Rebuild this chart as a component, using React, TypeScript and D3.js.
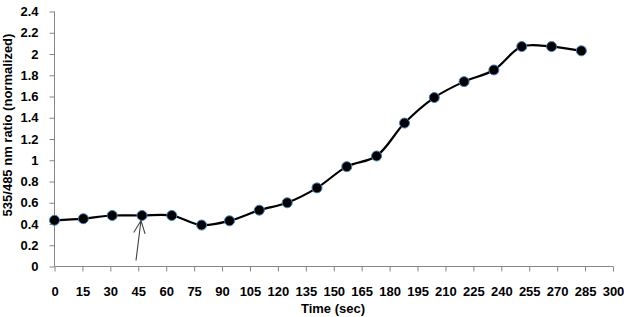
import React, { useEffect, useRef } from "react";
import * as d3 from "d3";

// time (sec) of each reading
const times = [0, 15.5, 31, 47, 63, 79, 94, 110, 125, 141, 157, 173, 188, 204, 220, 236, 251, 267, 283];
// 535/485 ratio (normalized)
const ratios = [0.435, 0.45, 0.48, 0.48, 0.48, 0.39, 0.43, 0.53, 0.6, 0.74, 0.94, 1.04, 1.35, 1.59, 1.74, 1.85, 2.07, 2.07, 2.03];
const xTicks = d3.range(0, 301, 15);
const yTicks = [0, 0.2, 0.4, 0.6, 0.8, 1, 1.2, 1.4, 1.6, 1.8, 2, 2.2, 2.4];
// arrow marks the time of stimulus
const arrowAt = 47;

const App = () => {
  const ref = useRef<SVGSVGElement>(null);

  useEffect(() => {
    const svg = d3.select(ref.current);
    svg.selectAll("*").remove();

    const x = d3.scaleLinear().domain([0, 300]).range([54.5, 613]);
    const y = d3.scaleLinear().domain([0, 2.4]).range([266.5, 11.5]);
    const axisColor = "#868686";
    const font = "'Liberation Sans', Arial, sans-serif";

    // eixo y
    const gy = svg.append("g").attr("transform", `translate(${x(0)},0)`)
      .call(d3.axisLeft(y).tickValues(yTicks).tickSize(5).tickPadding(11)
        .tickFormat((d) => String(+(+d).toFixed(1))));
    // eixo x
    const gx = svg.append("g").attr("transform", `translate(0,${y(0)})`)
      .call(d3.axisBottom(x).tickValues(xTicks).tickSize(5).tickPadding(15)
        .tickFormat((d) => String(d)));

    [gy, gx].forEach((g) => {
      g.select(".domain").attr("stroke", axisColor).attr("stroke-width", 1);
      g.selectAll(".tick line").attr("stroke", axisColor);
      g.selectAll(".tick text")
        .attr("fill", "#000")
        .style("font-family", font)
        .style("font-size", "13px")
        .style("font-weight", "bold");
    });
    gy.select(".domain").attr("d", `M0,${y(2.4)}V${y(0)}`);
    gx.select(".domain").attr("d", `M${x(0)},0H${x(300)}`);

    // titulos
    svg.append("text")
      .attr("x", 333).attr("y", 313)
      .attr("text-anchor", "middle")
      .style("font-family", font).style("font-size", "13px").style("font-weight", "bold")
      .text("Time (sec)");
    svg.append("text")
      .attr("transform", `translate(12,${(y(0) + y(2.4)) / 2 - 14}) rotate(-90)`)
      .attr("text-anchor", "middle")
      .style("font-family", font).style("font-size", "13px").style("font-weight", "bold")
      .text("535/485 nm ratio (normalized)");

    // linha
    const line = d3.line<number>()
      .x((d, i) => x(times[i]))
      .y((d) => y(d))
      .curve(d3.curveCatmullRom.alpha(0.5));
    svg.append("path")
      .attr("d", line(ratios))
      .attr("fill", "none")
      .attr("stroke", "#000")
      .attr("stroke-width", 2.2);

    // pontos
    svg.append("g").selectAll("circle")
      .data(ratios)
      .join("circle")
      .attr("cx", (d, i) => x(times[i]))
      .attr("cy", (d) => y(d))
      .attr("r", 5)
      .attr("fill", "#000")
      .attr("stroke", "#4a7ebb")
      .attr("stroke-width", 1);

    // seta
    const tipX = x(arrowAt) - 1;
    const tipY = y(0.48) + 5;
    const tailX = tipX - 5;
    const tailY = y(0) - 6;
    const ang = Math.atan2(tipY - tailY, tipX - tailX);
    const head = 14;
    const spread = 0.42;
    svg.append("path")
      .attr("d",
        `M${tailX},${tailY}L${tipX},${tipY}` +
        `M${tipX - head * Math.cos(ang - spread)},${tipY - head * Math.sin(ang - spread)}L${tipX},${tipY}` +
        `L${tipX - head * Math.cos(ang + spread)},${tipY - head * Math.sin(ang + spread)}`)
      .attr("fill", "none")
      .attr("stroke", "#404040")
      .attr("stroke-width", 1.1);

    return () => {
      d3.select(ref.current).selectAll("*").remove();
    };
  }, []);

  return (
    <svg ref={ref} width={624} height={317}
      style={{ position: "absolute", left: 0, top: 0, background: "#fff" }} />
  );
};

export default App;
